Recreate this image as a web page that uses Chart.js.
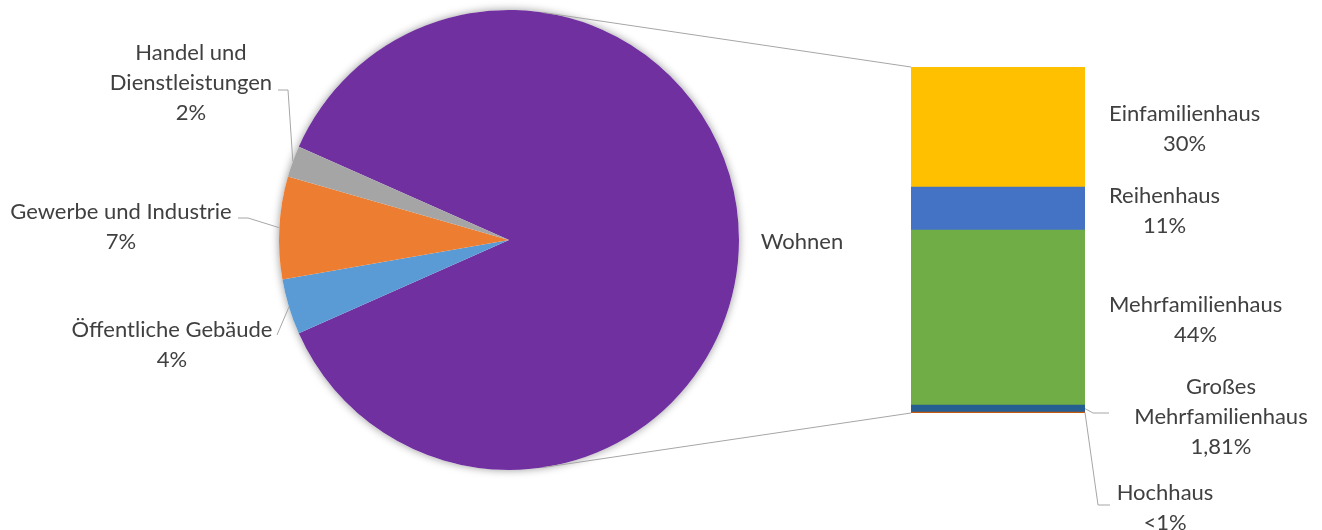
<!DOCTYPE html>
<html>
<head>
<meta charset="utf-8">
<script src="https://cdn.jsdelivr.net/npm/chart.js@4"></script>
<style>
  body { margin: 0; background: #fff; }
  #wrap { position: relative; width: 1322px; height: 530px; }
  canvas { position: absolute; left: 0; top: 0; }
</style>
</head>
<body>
<div id="wrap">
  <canvas id="pieChart" width="1322" height="530"></canvas>
  <canvas id="barChart" width="1322" height="530"></canvas>
</div>
<script>
// pie: sectors of the building stock
const pieLabels = ['Wohnen', 'Öffentliche Gebäude', 'Gewerbe und Industrie', 'Handel und Dienstleistungen'];
const pieValues = [86.7, 3.9, 7.2, 2.2];
const pieText = ['', '4%', '7%', '2%'];
const pieColors = ['#7030A0', '#5B9BD5', '#ED7D31', '#A5A5A5'];

// bar: breakdown of "Wohnen", bottom to top
const barLabels = ['Hochhaus', 'Großes Mehrfamilienhaus', 'Mehrfamilienhaus', 'Reihenhaus', 'Einfamilienhaus'];
const barValues = [0.2, 1.81, 43.9, 10.8, 30.1];
const barText = ['<1%', '1,81%', '44%', '11%', '30%'];
const barColors = ['#C55A11', '#255E91', '#70AD47', '#4472C4', '#FFC000'];

const FONT = '22px Lato';
const TXT = '#404040';
const LEAD = '#A6A6A6';
const LH = 30;

function textBlock(ctx, lines, cx, y0) {
  ctx.save();
  ctx.font = FONT;
  ctx.fillStyle = TXT;
  ctx.textAlign = 'center';
  ctx.textBaseline = 'middle';
  lines.forEach((t, i) => ctx.fillText(t, cx, y0 + i * LH));
  ctx.restore();
}

function leader(ctx, pts) {
  ctx.save();
  ctx.strokeStyle = LEAD;
  ctx.lineWidth = 1;
  ctx.beginPath();
  pts.forEach((p, i) => i ? ctx.lineTo(p[0], p[1]) : ctx.moveTo(p[0], p[1]));
  ctx.stroke();
  ctx.restore();
}

function edgePoint(arc) {
  const p = arc.getProps(['x', 'y', 'startAngle', 'endAngle', 'outerRadius'], true);
  const a = (p.startAngle + p.endAngle) / 2;
  return [p.x + p.outerRadius * Math.cos(a), p.y + p.outerRadius * Math.sin(a)];
}

// tangent from an outside point to the pie circle
function tangent(cx, cy, r, px, py, side) {
  const dx = px - cx, dy = py - cy;
  const d = Math.hypot(dx, dy);
  const a = Math.atan2(dy, dx) + side * Math.acos(r / d);
  return [cx + r * Math.cos(a), cy + r * Math.sin(a)];
}

const otherShare = pieValues.slice(1).reduce((a, b) => a + b, 0) / pieValues.reduce((a, b) => a + b, 0);

const pieShadow = {
  id: 'pieShadow',
  beforeDatasetsDraw(chart) {
    const arc = chart.getDatasetMeta(0).data[0];
    const ctx = chart.ctx;
    ctx.save();
    ctx.shadowColor = 'rgba(0,0,0,0.4)';
    ctx.shadowBlur = 9;
    ctx.fillStyle = '#fff';
    ctx.beginPath();
    ctx.arc(arc.x, arc.y, arc.outerRadius, 0, Math.PI * 2);
    ctx.fill();
    ctx.restore();
  }
};

const pieLabelsPlugin = {
  id: 'pieLabelsPlugin',
  afterDatasetsDraw(chart) {
    const ctx = chart.ctx;
    const arcs = chart.getDatasetMeta(0).data;
    const w = arcs[0];
    textBlock(ctx, [pieLabels[0]], w.x + w.outerRadius + 63, w.y + 2);

    // Öffentliche Gebäude
    const e1 = edgePoint(arcs[1]);
    leader(ctx, [e1, [277, 335]]);
    textBlock(ctx, ['Öffentliche Gebäude', pieText[1]], 172, 330);

    // Gewerbe und Industrie
    const e2 = edgePoint(arcs[2]);
    leader(ctx, [e2, [248, 218], [238, 218]]);
    textBlock(ctx, [pieLabels[2], pieText[2]], 121, 212);

    // Handel und Dienstleistungen
    const e3 = edgePoint(arcs[3]);
    leader(ctx, [e3, [288, 90], [278, 90]]);
    textBlock(ctx, ['Handel und', 'Dienstleistungen', pieText[3]], 191, 53);
  }
};

const barLabelsPlugin = {
  id: 'barLabelsPlugin',
  afterDatasetsDraw(chart) {
    const ctx = chart.ctx;
    const segs = chart.data.datasets.map((ds, i) => chart.getDatasetMeta(i).data[0].getProps(['x', 'y', 'base', 'width'], true));
    const right = segs[0].x + segs[0].width / 2;

    [4, 3, 2].forEach(i => {
      const s = segs[i];
      const lines = [barLabels[i], barText[i]];
      ctx.save();
      ctx.font = FONT;
      const bw = Math.max(...lines.map(t => ctx.measureText(t).width));
      ctx.restore();
      const yc = (s.y + s.base) / 2 + 2;
      textBlock(ctx, lines, right + 24 + bw / 2, yc - LH / 2);
    });

    // Großes Mehrfamilienhaus
    const g = segs[1];
    leader(ctx, [[right, (g.y + g.base) / 2], [right + 8, 413], [right + 24, 413]]);
    textBlock(ctx, ['Großes', 'Mehrfamilienhaus', barText[1]], 1221, 387);

    // Hochhaus
    const h = segs[0];
    leader(ctx, [[right, (h.y + h.base) / 2], [right + 13, 505], [right + 25, 505]]);
    textBlock(ctx, [barLabels[0], barText[0]], 1165, 493);

    // connector lines from the pie to the bar
    const pie = pieChart.getDatasetMeta(0).data[0];
    const top = segs[4], bottom = segs[0];
    const left = top.x - top.width / 2;
    const tTop = tangent(pie.x, pie.y, pie.outerRadius, left, top.y, -1);
    const tBot = tangent(pie.x, pie.y, pie.outerRadius, left, bottom.base, 1);
    leader(ctx, [tTop, [left, top.y]]);
    leader(ctx, [tBot, [left, bottom.base]]);
  }
};

const pieChart = new Chart(document.getElementById('pieChart'), {
  type: 'pie',
  data: {
    labels: pieLabels,
    datasets: [{ data: pieValues, backgroundColor: pieColors, borderWidth: 0 }]
  },
  options: {
    responsive: false,
    animation: false,
    devicePixelRatio: 1,
    rotation: 270 + otherShare * 180,
    layout: { padding: { left: 279, right: 583, top: 10, bottom: 60 } },
    plugins: { legend: { display: false }, tooltip: { enabled: false } }
  },
  plugins: [pieShadow, pieLabelsPlugin]
});

const barChart = new Chart(document.getElementById('barChart'), {
  type: 'bar',
  data: {
    labels: ['Wohnen'],
    datasets: barValues.map((v, i) => ({
      label: barLabels[i],
      data: [v],
      backgroundColor: barColors[i],
      borderWidth: 0,
      barPercentage: 1,
      categoryPercentage: 1
    }))
  },
  options: {
    responsive: false,
    animation: false,
    devicePixelRatio: 1,
    layout: { padding: { left: 911, right: 237, top: 67, bottom: 117 } },
    scales: {
      x: { stacked: true, display: false },
      y: { stacked: true, display: false, min: 0, max: barValues.reduce((a, b) => a + b, 0) }
    },
    plugins: { legend: { display: false }, tooltip: { enabled: false } }
  },
  plugins: [barLabelsPlugin]
});
</script>
</body>
</html>
